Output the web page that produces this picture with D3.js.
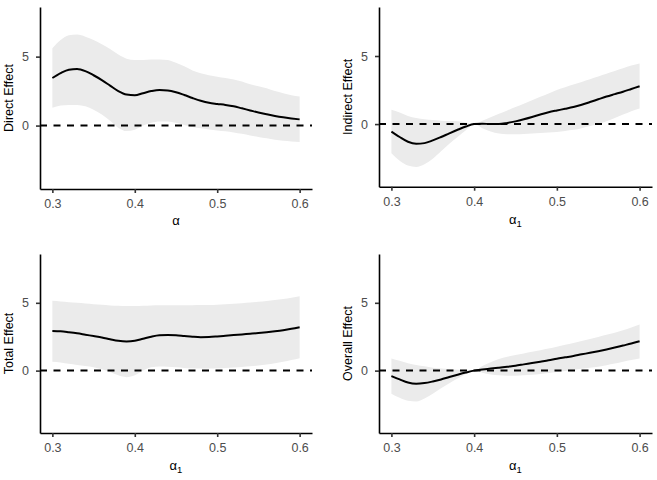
<!DOCTYPE html>
<meta charset="utf-8">
<html>
    <head>
        <script src="https://d3js.org/d3.v7.min.js"></script>
    </head>
    <style>
        body { margin: 0; background: #fff; }
        svg { display: block; font-family: "Liberation Sans", Arial, sans-serif; }
    </style>
    <body>

        <div id="viz"></div>

        <script>

            // alpha grid shared by all four panels
            var alpha = [0.30, 0.31, 0.32, 0.33, 0.34, 0.35, 0.36, 0.37, 0.38, 0.39, 0.40,
                         0.41, 0.42, 0.43, 0.44, 0.45, 0.46, 0.47, 0.48, 0.49, 0.50,
                         0.51, 0.52, 0.53, 0.54, 0.55, 0.56, 0.57, 0.58, 0.59, 0.60];

            var xTicks = [0.3, 0.4, 0.5, 0.6];
            var yTicks = [0, 5];

            // Direct effect
            var directFit = [3.45, 3.80, 4.05, 4.10, 3.95, 3.65, 3.30, 2.90, 2.50, 2.25, 2.20,
                             2.35, 2.50, 2.58, 2.55, 2.42, 2.22, 2.00, 1.80, 1.65, 1.57,
                             1.50, 1.40, 1.25, 1.10, 0.95, 0.82, 0.70, 0.60, 0.52, 0.45];
            var directHi = [5.60, 6.20, 6.55, 6.60, 6.45, 6.20, 5.90, 5.55, 5.15, 4.85, 4.75,
                            4.75, 4.80, 4.80, 4.75, 4.55, 4.30, 4.00, 3.80, 3.65, 3.55,
                            3.45, 3.35, 3.20, 3.00, 2.85, 2.70, 2.50, 2.35, 2.20, 2.10];
            var directLo = [1.30, 1.45, 1.50, 1.50, 1.40, 1.15, 0.80, 0.35, -0.15, -0.40, -0.30,
                            0.00, 0.20, 0.30, 0.30, 0.20, 0.05, -0.10, -0.20, -0.28, -0.35,
                            -0.42, -0.50, -0.60, -0.72, -0.82, -0.92, -1.02, -1.10, -1.15, -1.20];

            // Indirect effect
            var indirectFit = [-0.55, -0.95, -1.30, -1.45, -1.40, -1.20, -0.95, -0.68, -0.42, -0.18, 0.00,
                               0.03, 0.00, 0.00, 0.08, 0.20, 0.35, 0.52, 0.70, 0.87, 1.00,
                               1.12, 1.25, 1.42, 1.62, 1.82, 2.02, 2.20, 2.38, 2.58, 2.78];
            var indirectHi = [1.05, 0.85, 0.60, 0.45, 0.35, 0.30, 0.25, 0.22, 0.20, 0.12, 0.00,
                              0.25, 0.50, 0.75, 1.00, 1.25, 1.50, 1.75, 2.00, 2.25, 2.50,
                              2.70, 2.90, 3.10, 3.30, 3.50, 3.70, 3.90, 4.10, 4.30, 4.45];
            var indirectLo = [-2.15, -2.70, -3.05, -3.15, -2.95, -2.55, -2.00, -1.45, -0.95, -0.45, 0.00,
                              -0.30, -0.55, -0.70, -0.75, -0.75, -0.72, -0.70, -0.66, -0.62, -0.58,
                              -0.50, -0.42, -0.30, -0.15, 0.00, 0.20, 0.45, 0.70, 0.95, 1.15];

            // Total effect
            var totalFit = [2.93, 2.90, 2.83, 2.75, 2.65, 2.55, 2.45, 2.32, 2.20, 2.15, 2.20,
                            2.35, 2.50, 2.60, 2.62, 2.60, 2.55, 2.50, 2.47, 2.48, 2.52,
                            2.57, 2.62, 2.67, 2.72, 2.77, 2.83, 2.90, 2.98, 3.08, 3.20];
            var totalHi = [5.15, 5.10, 5.05, 5.00, 4.95, 4.90, 4.85, 4.80, 4.78, 4.76, 4.76,
                           4.78, 4.80, 4.82, 4.82, 4.82, 4.82, 4.82, 4.83, 4.84, 4.86,
                           4.90, 4.93, 4.97, 5.02, 5.07, 5.13, 5.20, 5.28, 5.38, 5.48];
            var totalLo = [0.65, 0.60, 0.50, 0.42, 0.35, 0.25, 0.10, -0.10, -0.35, -0.48, -0.35,
                           0.00, 0.25, 0.30, 0.28, 0.25, 0.20, 0.17, 0.15, 0.15, 0.17,
                           0.20, 0.23, 0.27, 0.32, 0.38, 0.45, 0.55, 0.65, 0.78, 0.92];

            // Overall effect
            var overallFit = [-0.40, -0.65, -0.88, -0.97, -0.92, -0.80, -0.65, -0.47, -0.30, -0.14, 0.00,
                              0.08, 0.15, 0.22, 0.29, 0.36, 0.46, 0.56, 0.66, 0.76, 0.88,
                              0.98, 1.08, 1.20, 1.31, 1.43, 1.56, 1.70, 1.85, 2.00, 2.17];
            var overallHi = [0.90, 0.72, 0.55, 0.42, 0.32, 0.22, 0.15, 0.10, 0.06, 0.03, 0.00,
                             0.35, 0.62, 0.85, 1.02, 1.15, 1.27, 1.39, 1.51, 1.63, 1.76,
                             1.90, 2.04, 2.18, 2.33, 2.48, 2.64, 2.80, 2.98, 3.18, 3.40];
            var overallLo = [-1.70, -2.00, -2.22, -2.27, -2.05, -1.70, -1.30, -0.93, -0.58, -0.25, 0.00,
                             -0.15, -0.28, -0.35, -0.38, -0.38, -0.35, -0.30, -0.24, -0.17, -0.10,
                             -0.03, 0.05, 0.13, 0.21, 0.29, 0.40, 0.52, 0.65, 0.78, 0.90];

            var width = 657, height = 480;

            var svg = d3.select("#viz")
                .append("svg")
                .attr("width", width)
                .attr("height", height);

            function drawPanel(opts) {
                var x = d3.scaleLinear().domain([0.285, 0.615]).range([opts.left, opts.right]);
                var y = d3.scaleLinear().domain([-4.6, 8.6]).range([opts.bottom, opts.top]);

                var rows = alpha.map((a, i) => ({a: a, fit: opts.fit[i], lo: opts.lo[i], hi: opts.hi[i]}));

                var g = svg.append("g");

                // confidence band
                g.append("path")
                    .datum(rows)
                    .attr("fill", "#ebebeb")
                    .attr("d", d3.area()
                        .curve(d3.curveMonotoneX)
                        .x(d => x(d.a))
                        .y0(d => y(d.lo))
                        .y1(d => y(d.hi)));

                // zero reference
                g.append("line")
                    .attr("x1", opts.left).attr("x2", opts.right)
                    .attr("y1", y(0)).attr("y2", y(0))
                    .attr("stroke", "#000")
                    .attr("stroke-width", 2)
                    .attr("stroke-dasharray", "7,6.5");

                // estimate
                g.append("path")
                    .datum(rows)
                    .attr("fill", "none")
                    .attr("stroke", "#000")
                    .attr("stroke-width", 2)
                    .attr("d", d3.line()
                        .curve(d3.curveMonotoneX)
                        .x(d => x(d.a))
                        .y(d => y(d.fit)));

                // axes
                var xAxis = g.append("g")
                    .attr("transform", `translate(0,${opts.bottom})`)
                    .call(d3.axisBottom(x).tickValues(xTicks).tickFormat(d3.format(".1f"))
                        .tickSize(4).tickSizeOuter(0).tickPadding(6));
                var yAxis = g.append("g")
                    .attr("transform", `translate(${opts.left},0)`)
                    .call(d3.axisLeft(y).tickValues(yTicks).tickFormat(d3.format("d"))
                        .tickSize(4).tickSizeOuter(0).tickPadding(7));

                [xAxis, yAxis].forEach(ax => {
                    ax.select(".domain").attr("stroke", "#000").attr("stroke-width", 1.6);
                    ax.selectAll(".tick line").attr("stroke", "#333").attr("stroke-width", 1.6);
                    ax.selectAll(".tick text")
                        .attr("fill", "#4d4d4d")
                        .attr("font-size", 12.5)
                        .attr("font-family", "Liberation Sans, Arial, sans-serif");
                });

                // titles
                var xt = g.append("text")
                    .attr("x", (opts.left + opts.right) / 2)
                    .attr("y", opts.xTitleY)
                    .attr("text-anchor", "middle")
                    .attr("font-size", 13)
                    .attr("fill", "#000");
                xt.append("tspan").text("α");
                if (opts.sub) {
                    xt.append("tspan")
                        .attr("font-size", 9.5)
                        .attr("dy", 3)
                        .text(opts.sub);
                }

                g.append("text")
                    .attr("transform", `translate(${opts.yTitleX},${(opts.top + opts.bottom) / 2}) rotate(-90)`)
                    .attr("text-anchor", "middle")
                    .attr("font-size", 12.5)
                    .attr("fill", "#000")
                    .text(opts.yTitle);
            }

            drawPanel({left: 40, right: 312, top: 7, bottom: 189, xTitleY: 225, yTitleX: 13,
                       yTitle: "Direct Effect", sub: null, fit: directFit, lo: directLo, hi: directHi});
            drawPanel({left: 379, right: 652, top: 7, bottom: 186.7, xTitleY: 224, yTitleX: 351.5,
                       yTitle: "Indirect Effect", sub: "1", fit: indirectFit, lo: indirectLo, hi: indirectHi});
            drawPanel({left: 40, right: 312, top: 254, bottom: 433, xTitleY: 470, yTitleX: 13,
                       yTitle: "Total Effect", sub: "1", fit: totalFit, lo: totalLo, hi: totalHi});
            drawPanel({left: 379, right: 652, top: 254, bottom: 433, xTitleY: 470, yTitleX: 351.5,
                       yTitle: "Overall Effect", sub: "1", fit: overallFit, lo: overallLo, hi: overallHi});

        </script>
    </body>
</html>
